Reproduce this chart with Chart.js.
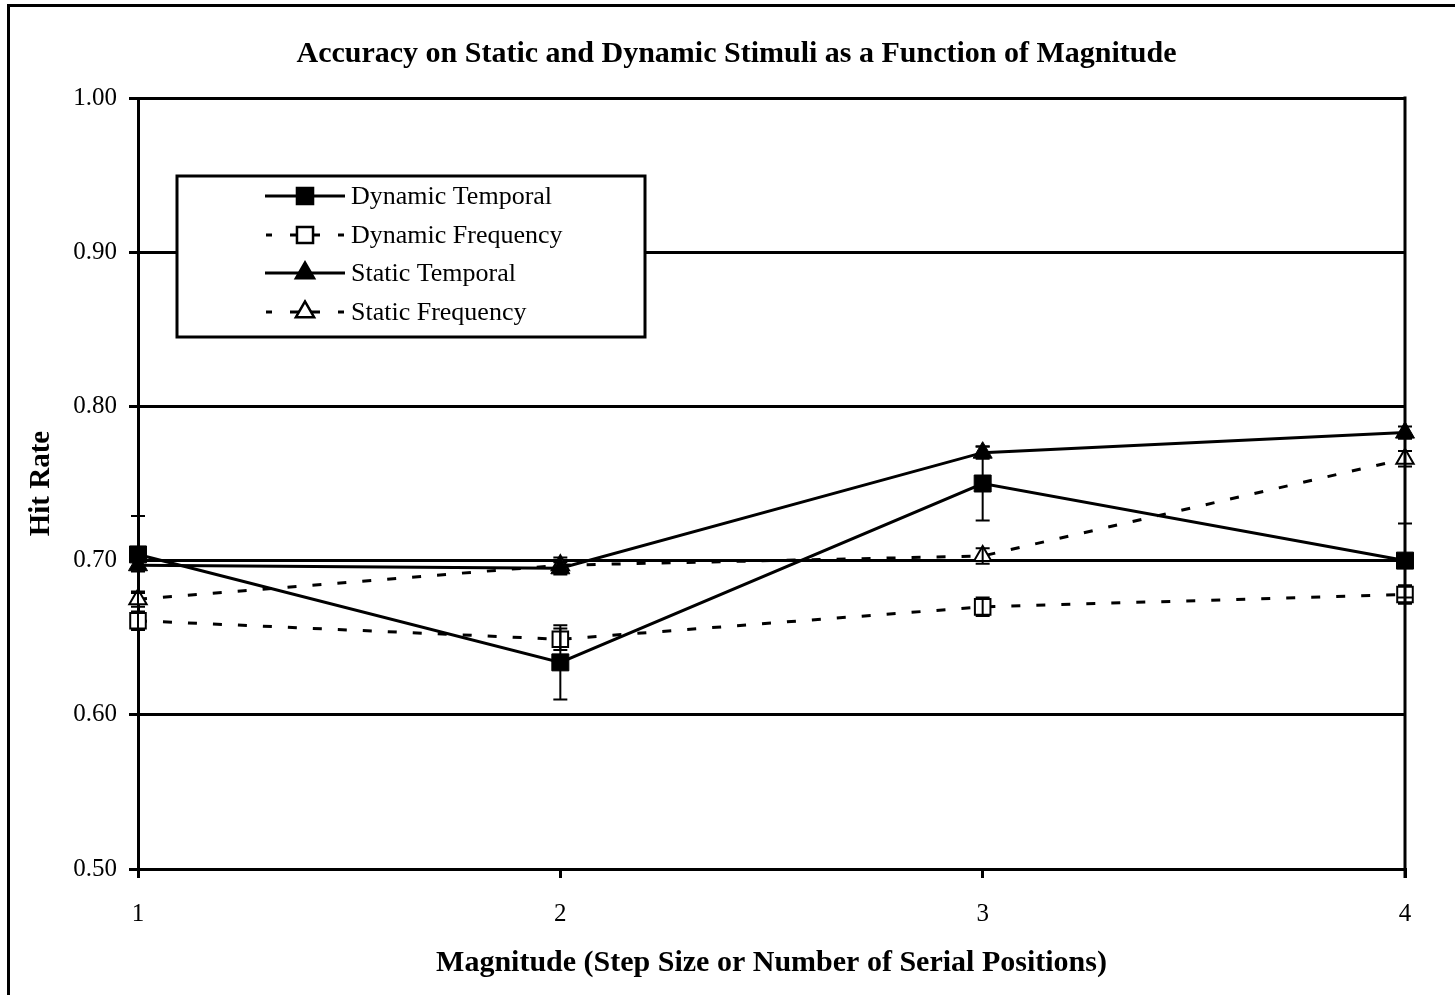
<!DOCTYPE html>
<html>
<head>
<meta charset="utf-8">
<script src="https://cdn.jsdelivr.net/npm/chart.js@4.4.1/dist/chart.umd.min.js"></script>
<style>
  html, body { margin: 0; padding: 0; background: #fff; }
  canvas { display: block; }
</style>
</head>
<body>
<canvas id="hitChart" width="1455" height="995"></canvas>
<script>
const magnitudes = [1, 2, 3, 4];
const yTicks = [0.5, 0.6, 0.7, 0.8, 0.9, 1.0];

const dynamicTemporal = [0.704, 0.634, 0.750, 0.700];
const dynamicFrequency = [0.661, 0.649, 0.670, 0.678];
const staticTemporal = [0.697, 0.695, 0.770, 0.783];
const staticFrequency = [0.675, 0.697, 0.703, 0.766];

const dynamicTemporalErr = [0.025, 0.024, 0.024, 0.024];
const dynamicFrequencyErr = [0.006, 0.007, 0.006, 0.006];
const staticTemporalErr = [0.004, 0.004, 0.004, 0.004];
const staticFrequencyErr = [0.005, 0.005, 0.005, 0.005];

const SERIF = '"Liberation Serif", "Times New Roman", serif';
const DASH = [9, 16];

const toPoints = (vals) => vals.map((v, i) => ({ x: magnitudes[i], y: v }));

function series(label, vals, errs, style, filled, dashed, radius) {
  return {
    label,
    data: toPoints(vals),
    errors: errs,
    yAxisID: 'y',
    borderColor: '#000',
    borderWidth: 3,
    borderDash: dashed ? DASH : [],
    pointStyle: style,
    pointRadius: radius,
    pointHoverRadius: radius,
    pointBackgroundColor: filled ? '#000' : '#fff',
    pointBorderColor: '#000',
    pointBorderWidth: filled ? 1 : 2,
    tension: 0,
    fill: false,
    clip: false,
  };
}

// error bars drawn over the markers (open markers show the stem inside)
const errorBars = {
  id: 'errorBars',
  afterDatasetsDraw(chart) {
    const { ctx, scales: { x, y } } = chart;
    ctx.save();
    ctx.strokeStyle = '#000';
    ctx.lineWidth = 2;
    chart.data.datasets.forEach((ds) => {
      ds.data.forEach((p, i) => {
        const e = ds.errors[i];
        const px = x.getPixelForValue(p.x);
        const top = y.getPixelForValue(p.y + e);
        const bot = y.getPixelForValue(p.y - e);
        ctx.beginPath();
        ctx.moveTo(px, top); ctx.lineTo(px, bot);
        ctx.moveTo(px - 7, top); ctx.lineTo(px + 7, top);
        ctx.moveTo(px - 7, bot); ctx.lineTo(px + 7, bot);
        ctx.stroke();
      });
    });
    ctx.restore();
  }
};

// frame: outer border, right edge of plot, boxed legend
const frame = {
  id: 'frame',
  beforeDraw(chart) {
    const { ctx } = chart;
    ctx.save();
    ctx.strokeStyle = '#000';
    ctx.lineWidth = 3;
    ctx.beginPath();
    ctx.moveTo(8.5, 995);
    ctx.lineTo(8.5, 5.5);
    ctx.lineTo(1455, 5.5);
    ctx.stroke();
    ctx.restore();
  },
  afterDatasetsDraw(chart) {
    const { ctx, chartArea: a } = chart;
    ctx.save();
    ctx.strokeStyle = '#000';
    ctx.lineWidth = 3;
    ctx.beginPath();
    ctx.moveTo(a.right, a.top - 1.5);
    ctx.lineTo(a.right, a.bottom + 9);
    ctx.stroke();
    ctx.restore();
  },
  afterDraw(chart) {
    const { ctx } = chart;
    const bx = 177, by = 176, bw = 468, bh = 161;
    ctx.save();
    ctx.fillStyle = '#fff';
    ctx.fillRect(bx, by, bw, bh);
    ctx.strokeStyle = '#000';
    ctx.lineWidth = 3;
    ctx.strokeRect(bx, by, bw, bh);

    const rows = [196, 235, 273, 312];
    const cx = 305, half = 40;
    chart.data.datasets.forEach((ds, i) => {
      const ry = rows[i];
      ctx.strokeStyle = '#000';
      ctx.lineWidth = 3;
      const dashed = ds.borderDash && ds.borderDash.length;
      ctx.setLineDash(dashed ? [15, 18, 6, 30] : []);
      ctx.beginPath();
      ctx.moveTo(cx, ry); ctx.lineTo(cx + half, ry);
      ctx.moveTo(cx, ry); ctx.lineTo(cx - half, ry);
      ctx.stroke();
      ctx.setLineDash([]);
      Chart.helpers.drawPoint(ctx, {
        pointStyle: ds.pointStyle,
        radius: ds.pointStyle === 'rect' ? 11 : 10,
        borderWidth: ds.pointBorderWidth,
      }, cx, ry);
      ctx.fillStyle = ds.pointBackgroundColor;
      ctx.fill();
      ctx.lineWidth = ds.pointBorderWidth;
      ctx.stroke();

      ctx.fillStyle = '#000';
      ctx.font = '26px ' + SERIF;
      ctx.textAlign = 'left';
      ctx.textBaseline = 'middle';
      ctx.fillText(ds.label, 351, ry + 1);
    });
    ctx.restore();
  }
};

new Chart(document.getElementById('hitChart'), {
  type: 'line',
  data: {
    datasets: [
      series('Dynamic Temporal', dynamicTemporal, dynamicTemporalErr, 'rect', true, false, 12),
      series('Dynamic Frequency', dynamicFrequency, dynamicFrequencyErr, 'rect', false, true, 11),
      series('Static Temporal', staticTemporal, staticTemporalErr, 'triangle', true, false, 11),
      series('Static Frequency', staticFrequency, staticFrequencyErr, 'triangle', false, true, 10),
    ],
  },
  options: {
    responsive: false,
    animation: false,
    events: [],
    layout: { padding: { left: 18, right: 0, top: 8, bottom: 0 } },
    scales: {
      x: {
        type: 'linear',
        min: 1,
        max: 4,
        afterFit: (s) => { s.height = 126; },
        afterBuildTicks: (s) => { s.ticks = magnitudes.map((v) => ({ value: v })); },
        ticks: {
          color: '#000',
          padding: 21,
          font: { family: SERIF, size: 25 },
          callback: (v) => String(v),
        },
        grid: { drawOnChartArea: false, drawTicks: true, tickLength: 9, color: '#000', lineWidth: 3 },
        border: { color: '#000', width: 3 },
        title: {
          display: true,
          text: 'Magnitude (Step Size or Number of Serial Positions)',
          color: '#000',
          font: { family: SERIF, size: 30, weight: 'bold' },
          padding: { top: 0, bottom: 14 },
        },
      },
      y: {
        min: 0.5,
        max: 1.0,
        afterFit: (s) => { s.width = 120; },
        afterBuildTicks: (s) => { s.ticks = yTicks.map((v) => ({ value: v })); },
        ticks: {
          color: '#000',
          padding: 12,
          font: { family: SERIF, size: 25 },
          callback: (v) => Number(v).toFixed(2),
        },
        grid: { color: '#000', lineWidth: 3, tickLength: 9 },
        border: { color: '#000', width: 3 },
        title: {
          display: true,
          text: 'Hit Rate',
          color: '#000',
          font: { family: SERIF, size: 29, weight: 'bold' },
          padding: { top: 6, bottom: 0 },
        },
      },
      // empty right-hand margin of the plot
      yMargin: {
        position: 'right',
        min: 0.5,
        max: 1.0,
        afterFit: (s) => { s.width = 50; },
        ticks: { display: false },
        grid: { display: false },
        border: { display: false },
      },
    },
    plugins: {
      legend: { display: false },
      tooltip: { enabled: false },
      title: {
        display: true,
        text: 'Accuracy on Static and Dynamic Stimuli as a Function of Magnitude',
        color: '#000',
        font: { family: SERIF, size: 30, weight: 'bold' },
        padding: { top: 28, bottom: 26 },
      },
    },
  },
  plugins: [frame, errorBars],
});
</script>
</body>
</html>
